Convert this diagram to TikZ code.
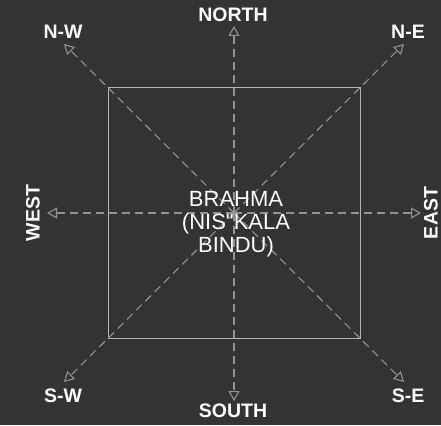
\documentclass[tikz,border=0pt]{standalone}
\usepackage{fontspec}
\setmainfont{Liberation Sans}[Ligatures=TeXOff]
\usetikzlibrary{arrows.meta}

\definecolor{bgdark}{HTML}{333333}
\definecolor{raygray}{HTML}{929292}
\definecolor{boxgray}{HTML}{B4B4B4}

\begin{document}
\begin{tikzpicture}[
  x=1pt, y=-1pt,
  dir/.style={text=white, inner sep=1pt, font=\bfseries\fontsize{19.5}{19.5}\selectfont},
  ray/.style={draw=raygray, line width=1.1pt, dash pattern=on 8pt off 5pt,
    -{Triangle[open, length=10pt, width=11pt]}},
  plan/.style={draw=boxgray, line width=1pt},
  core/.style={text=white, align=center, font=\fontsize{22}{23}\selectfont}
]

% background and page size
\fill[bgdark] (0,0) rectangle (441,425);
\useasboundingbox (0,0) rectangle (441,425);

% square plan
\draw[plan] (108,88) rectangle (360,338);

% centre and ray ends
\coordinate (c) at (234,213);
\coordinate (n) at (234,26);
\coordinate (s) at (234,401);
\coordinate (w) at (47,213);
\coordinate (e) at (421,213);
\coordinate (nw) at (64,44);
\coordinate (ne) at (404,44);
\coordinate (sw) at (64,382);
\coordinate (se) at (404,382);

% rays
\foreach \d in {n,s,w,e,nw,ne,sw,se}
  \draw[ray] (c) -- (\d);

% direction labels
\node[dir] (north) at (233,15) {NORTH};
\node[dir] (south) at (233,411) {SOUTH};
\node[dir, rotate=90] (west) at (33,213) {WEST};
\node[dir, rotate=90] (east) at (431,213) {EAST};
\node[dir] (nwlab) at (63,32) {N-W};
\node[dir] (nelab) at (408,32) {N-E};
\node[dir] (swlab) at (63,396) {S-W};
\node[dir] (selab) at (408,396) {S-E};

% centre text
\node[core] (brahma) at (236,224) {BRAHMA\\(NIS"KALA\\BINDU)};

\end{tikzpicture}
\end{document}
